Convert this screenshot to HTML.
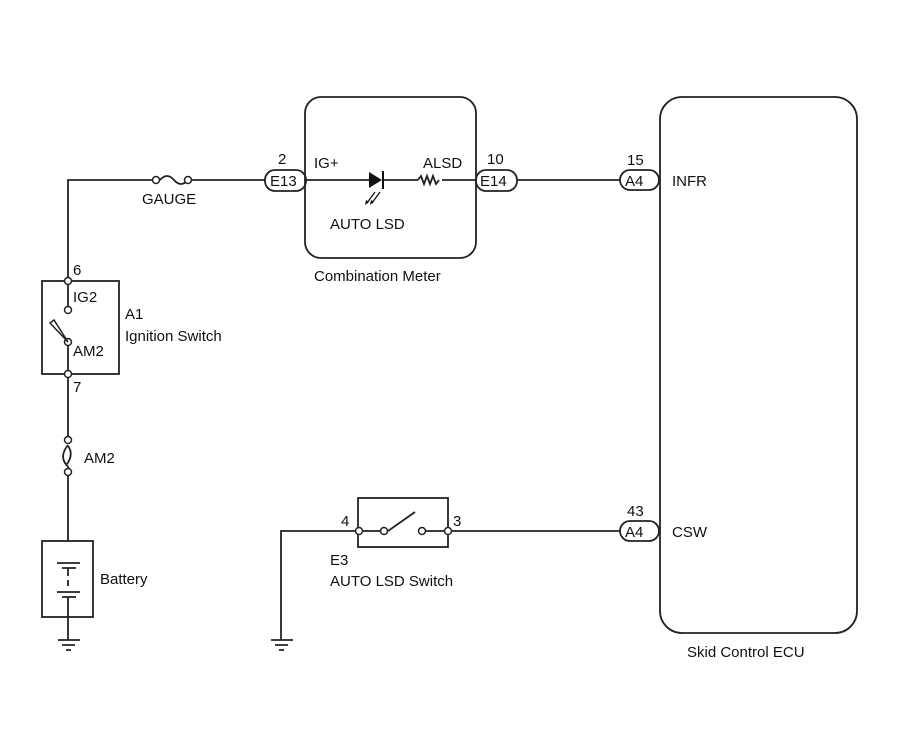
<!DOCTYPE html>
<html><head><meta charset="utf-8"><style>
html,body{margin:0;padding:0;background:#fff;}
svg{display:block;}
text{font-family:"Liberation Sans",Arial,sans-serif;font-size:15px;fill:#111;}
</style></head><body>
<svg width="907" height="739" viewBox="0 0 907 739" xmlns="http://www.w3.org/2000/svg">
<g stroke="#222" stroke-width="1.8" fill="none">
<path d="M68 281 V180 H155"/>
<path d="M188 180 H265"/>
<path d="M160 180 q7 -8 14 0 t14 0"/>
<path d="M306 180 H369"/>
<path d="M383 180 H418"/>
<path d="M418 180 l3 -4 l3 8 l3 -8 l3 8 l3 -8 l3 8 l3 -4"/>
<path d="M442 180 H476"/>
<path d="M517 180 H620"/>
<rect x="305" y="97" width="171" height="161" rx="16"/>
<rect x="660" y="97" width="197" height="536" rx="22"/>
<rect x="42" y="281" width="77" height="93"/>
<rect x="42" y="541" width="51" height="76"/>
<rect x="358" y="498" width="90" height="49"/>
<rect x="265" y="170" width="41" height="21" rx="10"/>
<rect x="476" y="170" width="41" height="21" rx="10"/>
<rect x="620" y="170" width="39" height="20" rx="10"/>
<rect x="620" y="521" width="39" height="20" rx="10"/>
<path d="M68 285 V306"/>
<path d="M68 346 V370"/>
<path d="M68 378 V436"/>
<path d="M68 476 V541"/>
<path d="M68 445 q-8 10 -3 18 q5 6 3 5"/>
<path d="M68 446 q6 8 -1 18"/>
<path d="M57 563 H80 M62 568 H76 M68 568 V576 M68 580 V586 M57 592 H80 M62 597 H76 M68 597 V640"/>
<path d="M58 640 H80 M62 645 H75 M66 650 H71"/>
<path d="M281 640 V531 H355 M271 640 H293 M275 645 H288 M279 650 H284"/>
<path d="M363 531 H380 M388 531 L415 512 M426 531 H444 M452 531 H620"/>
</g>
<g fill="#fff" stroke="#222" stroke-width="1.5">
<circle cx="68" cy="281" r="3.5"/><circle cx="68" cy="310" r="3.5"/><circle cx="68" cy="342" r="3.5"/><circle cx="68" cy="374" r="3.5"/>
<circle cx="68" cy="440" r="3.5"/><circle cx="68" cy="472" r="3.5"/>
<circle cx="156" cy="180" r="3.5"/><circle cx="188" cy="180" r="3.5"/>
<circle cx="359" cy="531" r="3.5"/><circle cx="384" cy="531" r="3.5"/><circle cx="422" cy="531" r="3.5"/><circle cx="448" cy="531" r="3.5"/>
</g>
<path d="M68 342 L54 320 L50 323 Z" fill="#fff" stroke="#222" stroke-width="1.5"/>
<path d="M369 172 L369 188 L382 180 Z" fill="#111"/>
<path d="M383 171 V189" stroke="#111" stroke-width="2"/>
<g stroke="#111" stroke-width="1.3">
<path d="M375 192 L367 203 M380 192 L372 203"/>
</g>
<path d="M365 205 l1 -5 l3 2 Z M370 205 l1 -5 l3 2 Z" fill="#111"/>
<g>
<text x="278" y="164">2</text>
<text x="270" y="186">E13</text>
<text x="314" y="168">IG+</text>
<text x="423" y="168">ALSD</text>
<text x="487" y="164">10</text>
<text x="480" y="186">E14</text>
<text x="330" y="229">AUTO LSD</text>
<text x="314" y="281">Combination Meter</text>
<text x="142" y="204">GAUGE</text>
<text x="627" y="165">15</text>
<text x="625" y="186">A4</text>
<text x="672" y="186">INFR</text>
<text x="627" y="516">43</text>
<text x="625" y="537">A4</text>
<text x="672" y="537">CSW</text>
<text x="687" y="657">Skid Control ECU</text>
<text x="73" y="275">6</text>
<text x="73" y="302">IG2</text>
<text x="125" y="319">A1</text>
<text x="125" y="341">Ignition Switch</text>
<text x="73" y="356">AM2</text>
<text x="73" y="392">7</text>
<text x="84" y="463">AM2</text>
<text x="100" y="584">Battery</text>
<text x="341" y="526">4</text>
<text x="453" y="526">3</text>
<text x="330" y="565">E3</text>
<text x="330" y="586">AUTO LSD Switch</text>
</g>
</svg>
</body></html>
